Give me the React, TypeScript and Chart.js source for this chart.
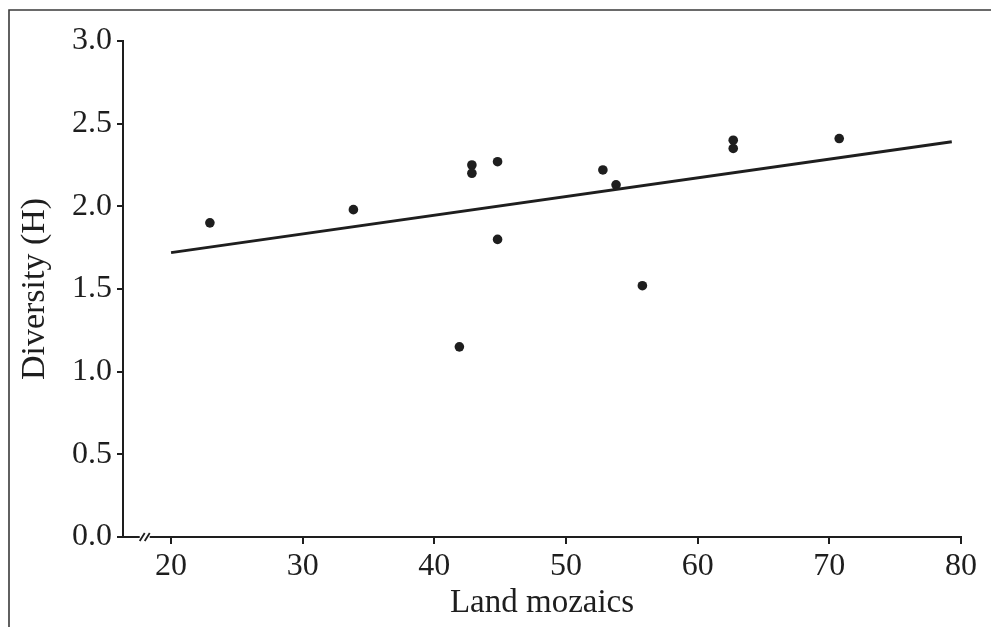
import React, { useEffect, useRef } from "react";
import { Chart, registerables } from "chart.js";

Chart.register(...registerables);

const landMozaics = [22.95, 33.85, 42.85, 42.85, 44.8, 44.8, 41.9, 52.8, 53.8, 55.8, 62.7, 62.7, 70.75];
const diversity = [1.9, 1.98, 2.25, 2.2, 2.27, 1.8, 1.15, 2.22, 2.13, 1.52, 2.4, 2.35, 2.41];
const fitX = [20, 79.3];
const fitY = [1.72, 2.39];
const xTicks = [20, 30, 40, 50, 60, 70, 80];
const yTicks = [0, 0.5, 1.0, 1.5, 2.0, 2.5, 3.0];
const xBreakAt = 18;

const FONT = "'Liberation Serif', 'Times New Roman', serif";
const INK = "#1e1e1e";

const framePlugin = {
  id: "frame",
  beforeDraw(chart: any) {
    const ctx = chart.ctx;
    ctx.save();
    ctx.strokeStyle = "#3a3a3a";
    ctx.lineWidth = 1.6;
    ctx.beginPath();
    ctx.moveTo(9, chart.height);
    ctx.lineTo(9, 10);
    ctx.lineTo(chart.width, 10);
    ctx.stroke();
    ctx.restore();
  },
  afterDraw(chart: any) {
    const ctx = chart.ctx;
    const xs = chart.scales.x;
    const px = xs.getPixelForValue(xBreakAt);
    const py = chart.chartArea.bottom;
    ctx.save();
    ctx.fillStyle = "#ffffff";
    ctx.fillRect(px - 5, py - 2, 10, 4);
    ctx.strokeStyle = INK;
    ctx.lineWidth = 1.8;
    ctx.beginPath();
    for (const dx of [-2.5, 2.5]) {
      ctx.moveTo(px + dx - 2.5, py + 4);
      ctx.lineTo(px + dx + 2.5, py - 4);
    }
    ctx.stroke();
    ctx.restore();
  },
};

export default function App() {
  const ref = useRef<HTMLCanvasElement | null>(null);
  useEffect(() => {
    if (!ref.current) return;
    const chart = new Chart(ref.current, {
      type: "scatter",
      data: {
        datasets: [
          {
            type: "line",
            data: fitX.map((x, i) => ({ x, y: fitY[i] })),
            borderColor: INK,
            borderWidth: 3,
            pointRadius: 0,
            fill: false,
          } as any,
          {
            type: "scatter",
            data: landMozaics.map((x, i) => ({ x, y: diversity[i] })),
            backgroundColor: INK,
            borderColor: INK,
            pointRadius: 4.8,
            borderWidth: 0,
          },
        ],
      },
      options: {
        responsive: false,
        animation: false,
        layout: { padding: { top: 41, right: 30, bottom: 0, left: 0 } },
        plugins: { legend: { display: false }, tooltip: { enabled: false } },
        scales: {
          x: {
            type: "linear",
            min: 16.35,
            max: 80,
            afterBuildTicks: (s: any) => {
              s.ticks = xTicks.map((v) => ({ value: v }));
            },
            afterFit: (s: any) => {
              s.height = 90;
            },
            border: { display: true, color: INK, width: 2 },
            grid: { drawOnChartArea: false, drawTicks: true, tickLength: 7, tickColor: INK, lineWidth: 2 },
            ticks: { color: INK, font: { family: FONT, size: 32 }, padding: 3, maxRotation: 0 },
            title: {
              display: true,
              text: "Land mozaics",
              color: INK,
              font: { family: FONT, size: 33 },
              padding: { top: 0, bottom: 4 },
            },
          },
          y: {
            type: "linear",
            min: 0,
            max: 3,
            afterBuildTicks: (s: any) => {
              s.ticks = yTicks.map((v) => ({ value: v }));
            },
            afterFit: (s: any) => {
              s.width = 123;
            },
            border: { display: true, color: INK, width: 2 },
            grid: { drawOnChartArea: false, drawTicks: true, tickLength: 6, tickColor: INK, lineWidth: 2 },
            ticks: {
              color: INK,
              font: { family: FONT, size: 32 },
              padding: 5,
              callback: (v: any) => Number(v).toFixed(1),
            },
            title: {
              display: true,
              text: "Diversity (H)",
              color: INK,
              font: { family: FONT, size: 34 },
              padding: { top: 15, bottom: 0 },
            },
          },
        },
      },
      plugins: [framePlugin],
    });
    return () => chart.destroy();
  }, []);
  return (
    <div style={{ position: "absolute", left: 0, top: 0, width: 991, height: 627, background: "#fff" }}>
      <canvas ref={ref} width={991} height={627} style={{ display: "block" }} />
    </div>
  );
}
